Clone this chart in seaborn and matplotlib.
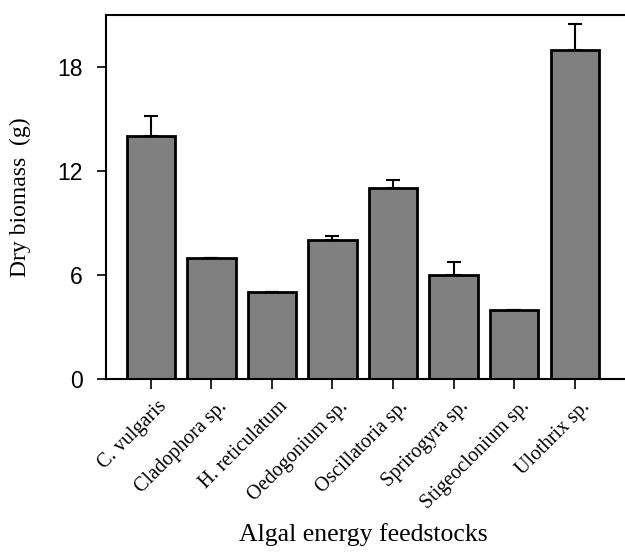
import numpy as np
import pandas as pd
import matplotlib
matplotlib.use("Agg")
import matplotlib.pyplot as plt
import matplotlib.transforms as mtrans
import seaborn as sns

species = ["C. vulgaris", "Cladophora sp.", "H. reticulatum", "Oedogonium sp.",
           "Oscillatoria sp.", "Sprirogyra sp.", "Stigeoclonium sp.", "Ulothrix sp."]
biomass = [14.0, 7.0, 5.0, 8.0, 11.0, 6.0, 4.0, 19.0]
err_up = [1.2, 0.0, 0.0, 0.25, 0.5, 0.75, 0.0, 1.5]

df = pd.DataFrame({"species": species, "biomass": biomass})

sns.set_style("ticks", rc={"text.color": "black", "axes.labelcolor": "black",
                           "xtick.color": "black", "ytick.color": "black",
                           "axes.edgecolor": "black"})
fig = plt.figure(figsize=(6.25, 5.6), dpi=100)
ax = fig.add_axes([106 / 625, 1 - 379 / 560, 1 - 106 / 625, (379 - 15) / 560])

sns.barplot(data=df, x="species", y="biomass", color="#808080", saturation=1,
            width=0.8, edgecolor="black", linewidth=2, ax=ax)

x = np.arange(len(species))
ax.errorbar(x, biomass, yerr=[np.zeros(len(err_up)), err_up], fmt="none",
            ecolor="black", elinewidth=1.5, capsize=5, capthick=1.5)

ax.set_ylim(0, 21)
ax.set_xlim(-0.74, 7.83)
ax.set_yticks([0, 6, 12, 18])
ax.tick_params(axis="y", direction="out", length=6.5, width=1.2, labelsize=16.5, pad=10)
ax.tick_params(axis="x", direction="out", length=7, width=1.2, pad=6)
for t in ax.get_yticklabels():
    t.set_family("Liberation Sans")
ax.set_xticks(x)
ax.set_xticklabels(species, rotation=45, ha="right", rotation_mode="anchor",
                   family="Liberation Serif", fontsize=14.5)
shift = mtrans.ScaledTranslation(6 / 100, 0, fig.dpi_scale_trans)
for t in ax.get_xticklabels():
    t.set_transform(t.get_transform() + shift)

for s in ["top", "bottom", "left"]:
    ax.spines[s].set_linewidth(1.5)
    ax.spines[s].set_visible(True)
ax.spines["right"].set_visible(False)

ax.set_xlabel("Algal energy feedstocks", family="Liberation Serif", fontsize=18.5)
ax.set_ylabel("Dry biomass  (g)", family="Liberation Serif", fontsize=17)
ax.xaxis.set_label_coords(0.495, -0.395)
ax.yaxis.set_label_coords(-0.145, 0.5)

fig.savefig("out.png", dpi=100)
